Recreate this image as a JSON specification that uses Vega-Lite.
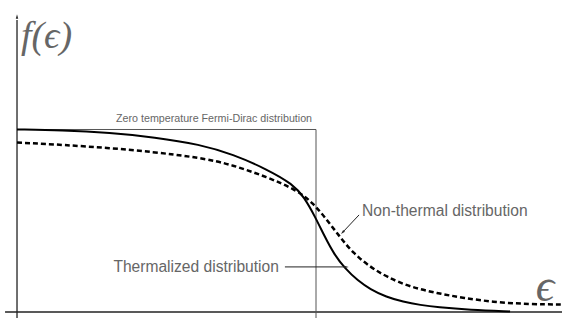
{
  "$schema": "https://vega.github.io/schema/vega-lite/v6.json",
  "width": 562,
  "height": 318,
  "autosize": "none",
  "padding": 0,
  "background": "white",
  "config": {"view": {"stroke": null}},
  "resolve": {"scale": {"x": "shared", "y": "shared"}},
  "layer": [
    {
      "data": {"values": [
        {"x": -0.04, "y": 0, "x2": 1.8227, "y2": 0},
        {"x": 0, "y": -0.033, "x2": 0, "y2": 1.6}
      ]},
      "mark": {"type": "rule", "color": "#222", "strokeWidth": 1.3},
      "encoding": {
        "x": {"field": "x", "type": "quantitative", "scale": {"domain": [-0.0569, 1.8227], "nice": false, "zero": false}, "axis": null},
        "y": {"field": "y", "type": "quantitative", "scale": {"domain": [-0.0329, 1.7096], "nice": false, "zero": false}, "axis": null},
        "x2": {"field": "x2"},
        "y2": {"field": "y2"}
      }
    },
    {
      "data": {"values": [
        {"x": 0, "y": 1.0, "o": 0},
        {"x": 1.0, "y": 1.0, "o": 1},
        {"x": 1.0, "y": -0.033, "o": 2}
      ]},
      "mark": {"type": "line", "color": "#555", "strokeWidth": 1},
      "encoding": {
        "x": {"field": "x", "type": "quantitative"},
        "y": {"field": "y", "type": "quantitative"},
        "order": {"field": "o"}
      }
    },
    {
      "data": {"values": [
        {"x": 0, "y": 1.0},
        {"x": 0.15, "y": 0.996},
        {"x": 0.311, "y": 0.982},
        {"x": 0.46, "y": 0.958},
        {"x": 0.612, "y": 0.918},
        {"x": 0.722, "y": 0.864},
        {"x": 0.836, "y": 0.782},
        {"x": 0.923, "y": 0.700},
        {"x": 0.96, "y": 0.630},
        {"x": 0.997, "y": 0.522},
        {"x": 1.03, "y": 0.41},
        {"x": 1.06, "y": 0.318},
        {"x": 1.097, "y": 0.238},
        {"x": 1.14, "y": 0.172},
        {"x": 1.181, "y": 0.125},
        {"x": 1.235, "y": 0.082},
        {"x": 1.291, "y": 0.056},
        {"x": 1.35, "y": 0.038},
        {"x": 1.405, "y": 0.026},
        {"x": 1.515, "y": 0.011},
        {"x": 1.649, "y": 0.003}
      ]},
      "mark": {"type": "line", "color": "#000", "strokeWidth": 2, "interpolate": "basis"},
      "encoding": {
        "x": {"field": "x", "type": "quantitative"},
        "y": {"field": "y", "type": "quantitative"}
      }
    },
    {
      "data": {"values": [
        {"x": 0, "y": 0.929},
        {"x": 0.311, "y": 0.902},
        {"x": 0.612, "y": 0.849},
        {"x": 0.722, "y": 0.805},
        {"x": 0.836, "y": 0.740},
        {"x": 0.936, "y": 0.668},
        {"x": 0.990, "y": 0.597},
        {"x": 1.037, "y": 0.504},
        {"x": 1.080, "y": 0.411},
        {"x": 1.124, "y": 0.323},
        {"x": 1.181, "y": 0.247},
        {"x": 1.237, "y": 0.192},
        {"x": 1.314, "y": 0.137},
        {"x": 1.405, "y": 0.103},
        {"x": 1.492, "y": 0.077},
        {"x": 1.605, "y": 0.052},
        {"x": 1.716, "y": 0.043},
        {"x": 1.8227, "y": 0.041}
      ]},
      "mark": {"type": "line", "color": "#000", "strokeWidth": 2.5, "strokeDash": [5, 3], "interpolate": "basis"},
      "encoding": {
        "x": {"field": "x", "type": "quantitative"},
        "y": {"field": "y", "type": "quantitative"}
      }
    },
    {
      "data": {"values": [
        {"x": 1.144, "y": 0.532, "x2": 1.090, "y2": 0.438},
        {"x": 0.896, "y": 0.247, "x2": 1.095, "y2": 0.247}
      ]},
      "mark": {"type": "rule", "color": "#222", "strokeWidth": 1},
      "encoding": {
        "x": {"field": "x", "type": "quantitative"},
        "y": {"field": "y", "type": "quantitative"},
        "x2": {"field": "x2"},
        "y2": {"field": "y2"}
      }
    },
    {
      "data": {"values": [
        {"x": 1.090, "y": 0.438, "a": 223},
        {"x": 1.100, "y": 0.247, "a": 90},
        {"x": 0, "y": 1.616, "a": 0}
      ]},
      "mark": {"type": "point", "shape": "M0,-1L0.45,0.6L-0.45,0.6Z", "filled": true, "color": "#222", "size": 30, "opacity": 1},
      "encoding": {
        "x": {"field": "x", "type": "quantitative"},
        "y": {"field": "y", "type": "quantitative"},
        "angle": {"field": "a", "type": "quantitative", "scale": null}
      }
    },
    {
      "data": {"values": [
        {"x": 0.659, "y": 1.058, "t": "Zero temperature Fermi-Dirac distribution"}
      ]},
      "mark": {"type": "text", "font": "Liberation Sans", "fontSize": 10.7, "color": "#666", "align": "center", "baseline": "middle"},
      "encoding": {
        "x": {"field": "x", "type": "quantitative"},
        "y": {"field": "y", "type": "quantitative"},
        "text": {"field": "t"}
      }
    },
    {
      "data": {"values": [
        {"x": 0.876, "y": 0.247, "t": "Thermalized distribution"}
      ]},
      "mark": {"type": "text", "font": "Liberation Sans", "fontSize": 15.6, "color": "#666", "align": "right", "baseline": "middle"},
      "encoding": {
        "x": {"field": "x", "type": "quantitative"},
        "y": {"field": "y", "type": "quantitative"},
        "text": {"field": "t"}
      }
    },
    {
      "data": {"values": [
        {"x": 1.154, "y": 0.553, "t": "Non-thermal distribution"}
      ]},
      "mark": {"type": "text", "font": "Liberation Sans", "fontSize": 15.6, "color": "#666", "align": "left", "baseline": "middle"},
      "encoding": {
        "x": {"field": "x", "type": "quantitative"},
        "y": {"field": "y", "type": "quantitative"},
        "text": {"field": "t"}
      }
    },
    {
      "data": {"values": [
        {"x": 0.013, "y": 1.507, "t": "f(ϵ)"}
      ]},
      "mark": {"type": "text", "font": "Liberation Serif", "fontStyle": "italic", "fontSize": 38, "color": "#666", "align": "left", "baseline": "middle"},
      "encoding": {
        "x": {"field": "x", "type": "quantitative"},
        "y": {"field": "y", "type": "quantitative"},
        "text": {"field": "t"}
      }
    },
    {
      "data": {"values": [
        {"x": 1.766, "y": 0.137, "t": "ϵ"}
      ]},
      "mark": {"type": "text", "font": "Liberation Serif", "fontStyle": "italic", "fontSize": 46, "color": "#666", "align": "center", "baseline": "middle"},
      "encoding": {
        "x": {"field": "x", "type": "quantitative"},
        "y": {"field": "y", "type": "quantitative"},
        "text": {"field": "t"}
      }
    }
  ]
}
